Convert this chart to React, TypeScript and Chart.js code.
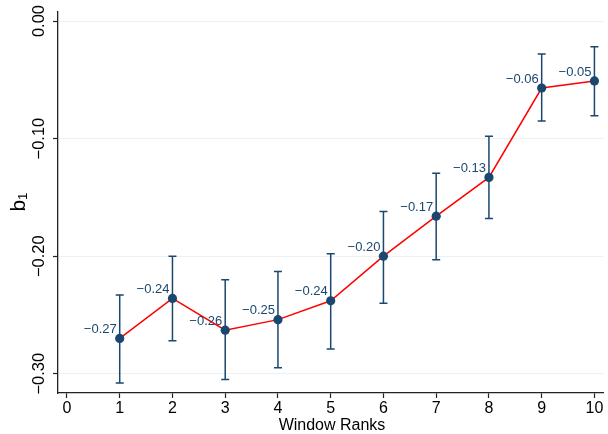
import React, { useEffect, useRef } from "react";
import { Chart, registerables } from "chart.js";

Chart.register(...registerables);

const ranks = [1, 2, 3, 4, 5, 6, 7, 8, 9, 10];
const coef = [-0.270, -0.236, -0.263, -0.254, -0.238, -0.200, -0.166, -0.133, -0.057, -0.051];
const ciLow = [-0.308, -0.272, -0.305, -0.295, -0.279, -0.240, -0.203, -0.168, -0.085, -0.0805];
const ciHigh = [-0.233, -0.200, -0.220, -0.213, -0.198, -0.162, -0.1295, -0.098, -0.028, -0.022];
const xTicks = [0, 1, 2, 3, 4, 5, 6, 7, 8, 9, 10];
const yTicks = [0, -0.1, -0.2, -0.3];

const NAVY = "#1a476f";
const FONT = "'Liberation Sans', Arial, Helvetica, sans-serif";

const fmt = (v: number, d: number) => {
  const s = Math.abs(v).toFixed(d);
  return (v < -1e-9 ? "\u2212" : "") + s;
};

const overlay = {
  id: "overlay",
  beforeDatasetsDraw(chart: any) {
    const { ctx, scales } = chart;
    const xs = scales.x, ys = scales.y;
    ctx.save();
    ctx.strokeStyle = NAVY;
    ctx.lineWidth = 1.5;
    ranks.forEach((r, i) => {
      const x = xs.getPixelForValue(r);
      const y1 = ys.getPixelForValue(ciLow[i]);
      const y2 = ys.getPixelForValue(ciHigh[i]);
      ctx.beginPath();
      ctx.moveTo(x, y1);
      ctx.lineTo(x, y2);
      ctx.moveTo(x - 4, y1);
      ctx.lineTo(x + 4, y1);
      ctx.moveTo(x - 4, y2);
      ctx.lineTo(x + 4, y2);
      ctx.stroke();
    });
    ctx.restore();
  },
  afterDatasetsDraw(chart: any) {
    const { ctx, scales } = chart;
    const xs = scales.x, ys = scales.y;
    ctx.save();
    // point labels
    ctx.fillStyle = NAVY;
    ctx.font = `13px ${FONT}`;
    ctx.textAlign = "right";
    ctx.textBaseline = "middle";
    ranks.forEach((r, i) => {
      const x = xs.getPixelForValue(r);
      const y = ys.getPixelForValue(coef[i]);
      ctx.fillText(fmt(coef[i], 2), x - 3, y - 9);
    });
    // y tick labels rotated
    ctx.fillStyle = "#000";
    ctx.font = `16.5px ${FONT}`;
    ctx.textAlign = "center";
    ctx.textBaseline = "middle";
    yTicks.forEach((v) => {
      const y = ys.getPixelForValue(v);
      ctx.save();
      ctx.translate(39, y);
      ctx.rotate(-Math.PI / 2);
      ctx.fillText(fmt(v, 2), 0, 0);
      ctx.restore();
    });
    // y title b1
    ctx.save();
    ctx.translate(19, 202);
    ctx.rotate(-Math.PI / 2);
    ctx.font = `21px ${FONT}`;
    ctx.textAlign = "center";
    ctx.textBaseline = "middle";
    ctx.fillText("b\u2081", 0, 0);
    ctx.restore();
    // x title
    ctx.font = `16px ${FONT}`;
    ctx.textAlign = "center";
    ctx.textBaseline = "middle";
    ctx.fillText("Window Ranks", 332, 426);
    ctx.restore();
  },
};

export default function App() {
  const ref = useRef<HTMLCanvasElement | null>(null);
  useEffect(() => {
    if (!ref.current) return;
    const chart = new Chart(ref.current, {
      type: "line",
      data: {
        datasets: [
          {
            data: ranks.map((r, i) => ({ x: r, y: coef[i] })),
            borderColor: "#ff0000",
            borderWidth: 1.5,
            pointBackgroundColor: NAVY,
            pointBorderColor: NAVY,
            pointRadius: 4.6,
            pointBorderWidth: 0,
            tension: 0,
          },
        ],
      },
      options: {
        animation: false,
        responsive: true,
        maintainAspectRatio: false,
        layout: { padding: { top: 12, right: 2, left: 0, bottom: 0 } },
        plugins: { legend: { display: false }, tooltip: { enabled: false } },
        scales: {
          x: {
            type: "linear",
            min: -0.17,
            max: 10.17,
            afterBuildTicks: (s: any) => {
              s.ticks = xTicks.map((v) => ({ value: v }));
            },
            afterFit: (s: any) => {
              s.height = 41;
            },
            ticks: {
              color: "#000",
              font: { family: FONT, size: 16 },
              padding: 1,
              maxRotation: 0,
              callback: (v: any) => String(v),
            },
            grid: {
              drawOnChartArea: false,
              drawTicks: true,
              tickLength: 5,
              tickColor: "#222",
              tickWidth: 1.2,
            },
            border: { color: "#222", width: 1.3 },
          },
          y: {
            type: "linear",
            min: -0.3164,
            max: 0.00766,
            afterBuildTicks: (s: any) => {
              s.ticks = yTicks.map((v) => ({ value: v }));
            },
            afterFit: (s: any) => {
              s.width = 58;
            },
            ticks: { display: false },
            grid: {
              color: "#eaf2f3",
              lineWidth: 1,
              drawTicks: true,
              tickLength: 5,
              tickColor: "#222",
              tickWidth: 1.2,
            },
            border: { color: "#222", width: 1.3 },
          },
        },
      },
      plugins: [overlay],
    });
    return () => chart.destroy();
  }, []);
  return (
    <div style={{ position: "fixed", left: 0, top: 0, width: 608, height: 434, background: "#fff" }}>
      <canvas ref={ref} />
    </div>
  );
}
